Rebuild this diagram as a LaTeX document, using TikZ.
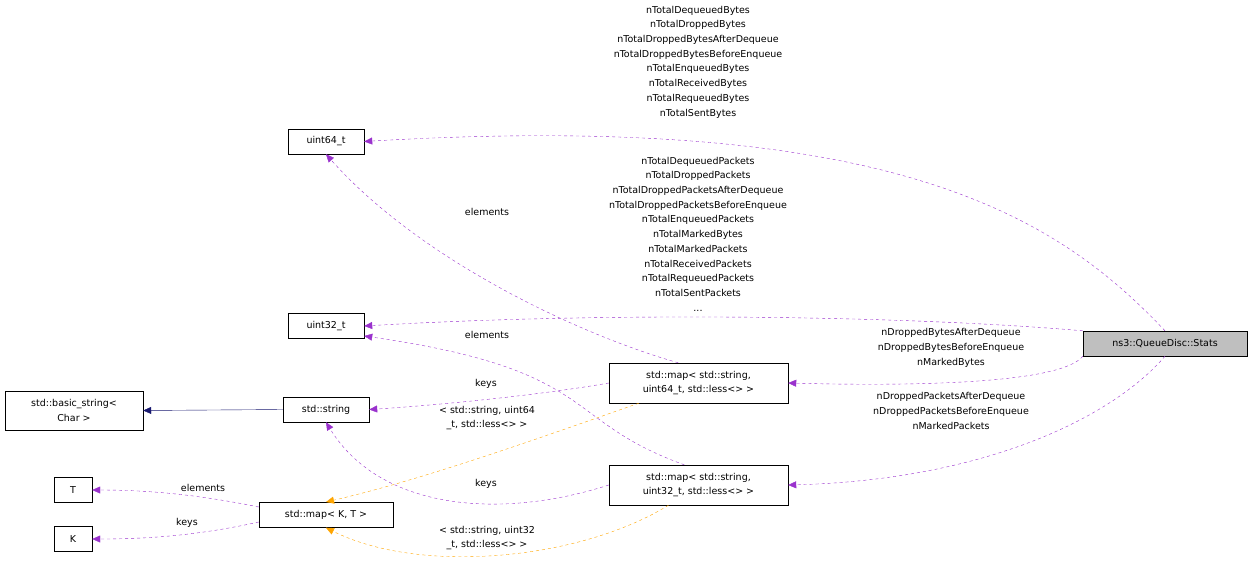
\documentclass[tikz,border=0pt]{standalone}
\usepackage{fontspec}
\setmainfont{DejaVu Sans}
\usetikzlibrary{arrows.meta}
\definecolor{pur}{HTML}{9A32CD}
\definecolor{org}{HTML}{FFA500}
\definecolor{nav}{HTML}{191970}
\begin{document}
\begin{tikzpicture}[x=1pt,y=-1pt,
  every node/.style={font=\fontsize{9.5}{14.7}\selectfont, inner sep=0pt},
  box/.style={draw=black, fill=white, align=center, minimum height=25pt},
  lbl/.style={align=center},
  dep/.style={draw=pur, dashed, -{Triangle[length=8pt,width=7pt]}},
  tpl/.style={draw=org, dashed, -{Triangle[length=8pt,width=7pt]}},
  inh/.style={draw=nav, -{Triangle[length=8pt,width=7pt]}}]
\useasboundingbox (0,0) rectangle (1253,568);
\node[box, minimum width=76pt] (u64) at (326,141.5) {uint64\_t};
\node[box, minimum width=76pt] (u32) at (326,326) {uint32\_t};
\node[box, minimum width=138pt, minimum height=39pt] (bs) at (74,410.5) {std::basic\_string\textless\\Char \textgreater};
\node[box, minimum width=86pt] (str) at (326,409.5) {std::string};
\node[box, minimum width=38pt] (T) at (73,490) {T};
\node[box, minimum width=38pt] (K) at (73,539) {K};
\node[box, minimum width=134pt] (mkt) at (326,515) {std::map\textless{} K, T \textgreater};
\node[box, minimum width=179pt, minimum height=40pt] (m64) at (698.5,383) {std::map\textless{} std::string,\\uint64\_t, std::less\textless\textgreater{} \textgreater};
\node[box, minimum width=179pt, minimum height=40pt] (m32) at (698.5,485) {std::map\textless{} std::string,\\uint32\_t, std::less\textless\textgreater{} \textgreater};
\node[box, fill=black!25, minimum width=164pt] (st) at (1165,343.5) {ns3::QueueDisc::Stats};

\draw[dep] (st.north) .. controls (1060,220) and (900,110) .. (u64.east);
\node[lbl] at (698,62) {nTotalDequeuedBytes\\nTotalDroppedBytes\\nTotalDroppedBytesAfterDequeue\\nTotalDroppedBytesBeforeEnqueue\\nTotalEnqueuedBytes\\nTotalReceivedBytes\\nTotalRequeuedBytes\\nTotalSentBytes};
\draw[dep] (st.north west) .. controls (900,315) and (600,312) .. (u32.east);
\node[lbl] at (698,234) {nTotalDequeuedPackets\\nTotalDroppedPackets\\nTotalDroppedPacketsAfterDequeue\\nTotalDroppedPacketsBeforeEnqueue\\nTotalEnqueuedPackets\\nTotalMarkedBytes\\nTotalMarkedPackets\\nTotalReceivedPackets\\nTotalRequeuedPackets\\nTotalSentPackets\\...};
\draw[dep] (st.south west) .. controls (1060,385) and (900,386) .. (m64.east);
\node[lbl] at (951,348) {nDroppedBytesAfterDequeue\\nDroppedBytesBeforeEnqueue\\nMarkedBytes};
\draw[dep] (st.south) .. controls (1110,420) and (980,480) .. (m32.east);
\node[lbl] at (951,411) {nDroppedPacketsAfterDequeue\\nDroppedPacketsBeforeEnqueue\\nMarkedPackets};

\draw[dep] (m64.135) .. controls (580,335) and (420,260) .. (u64.south);
\node at (487,212) {elements};
\draw[dep] (m64.west) .. controls (540,395) and (440,405) .. (str.east);
\node at (486,384) {keys};
\draw[dep] (m32.125) .. controls (560,420) and (600,370) .. (u32.east |- 0,336);
\node at (487,335) {elements};
\draw[dep] (m32.west) .. controls (500,520) and (380,510) .. (str.south);
\node at (486,484) {keys};
\draw[inh] (str.west) -- (bs.east);
\draw[dep] (mkt.west |- 0,507) .. controls (200,495) and (150,490) .. (T.east);
\node at (203,488) {elements};
\draw[dep] (mkt.west |- 0,522) .. controls (200,535) and (150,539) .. (K.east);
\node at (187,523) {keys};
\draw[tpl] (m64.south west) ++(30,0) .. controls (520,445) and (420,480) .. (mkt.north |- 0,502);
\node[lbl] at (487,418) {\textless{} std::string, uint64\\\_t, std::less\textless\textgreater{} \textgreater};
\draw[tpl] (m32.south) ++(-30,0) .. controls (580,560) and (420,575) .. (mkt.south);
\node[lbl] at (487,538) {\textless{} std::string, uint32\\\_t, std::less\textless\textgreater{} \textgreater};
\end{tikzpicture}
\end{document}
